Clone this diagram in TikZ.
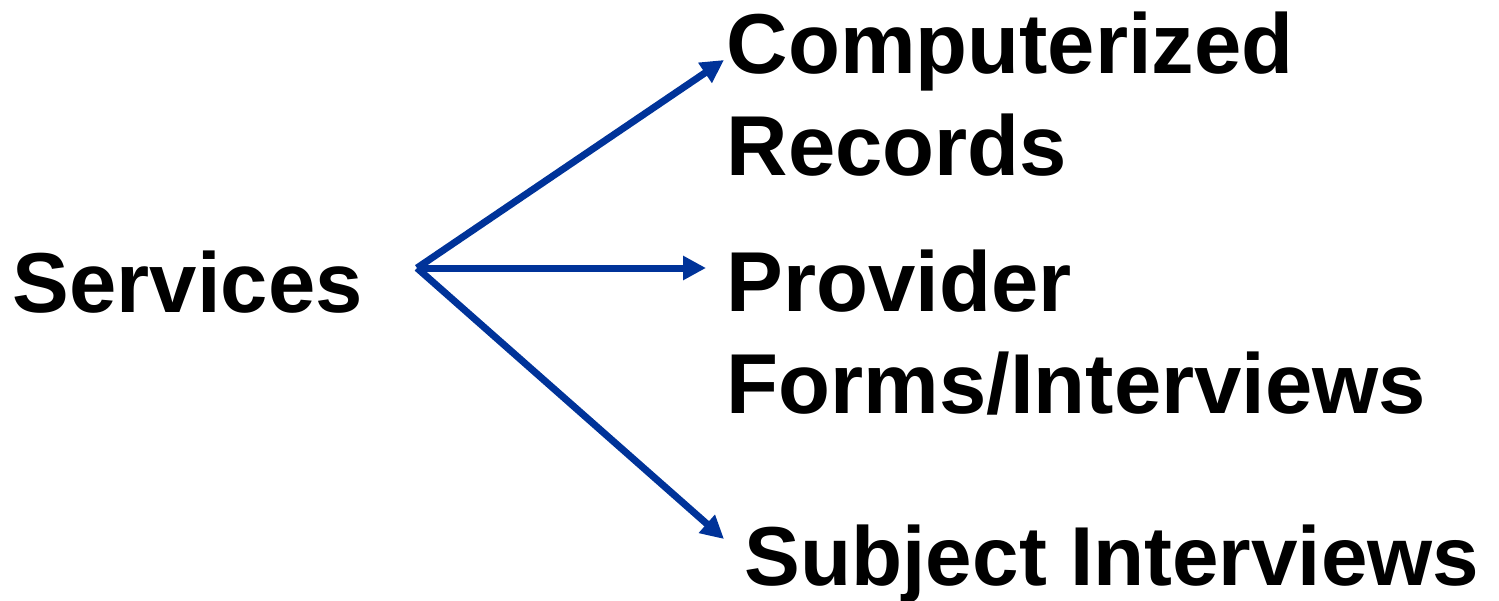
\documentclass[tikz,border=0pt]{standalone}
\usepackage{fontspec}
\setmainfont{Liberation Sans}
\usetikzlibrary{arrows.meta}
\definecolor{arrowblue}{HTML}{003399}
\begin{document}
\begin{tikzpicture}[
  lbl/.style={anchor=base west, inner sep=0pt, align=left, font=\fontsize{24.2pt}{29pt}\selectfont\bfseries},
  conn/.style={draw=arrowblue, line width=0.07cm, -{Triangle[length=0.23cm,width=0.23cm]}}
]
\useasboundingbox (0,0) rectangle (14.99,6);
\node[lbl] (services) at (0.12,2.88) {Services};
\node[lbl] (comp) at (7.26,4.25) {Computerized\\Records};
\node[lbl] (prov) at (7.26,1.87) {Provider\\Forms/Interviews};
\node[lbl, font=\fontsize{23.8pt}{29pt}\selectfont\bfseries] (subj) at (7.44,0.15) {Subject Interviews};
\coordinate (hub) at (4.17,3.32);
\coordinate (t1) at (7.24,5.40);
\coordinate (t2) at (7.06,3.32);
\coordinate (t3) at (7.24,0.61);
\draw[conn] (hub) -- (t1);
\draw[conn] (hub) -- (t2);
\draw[conn] (hub) -- (t3);
\end{tikzpicture}
\end{document}
